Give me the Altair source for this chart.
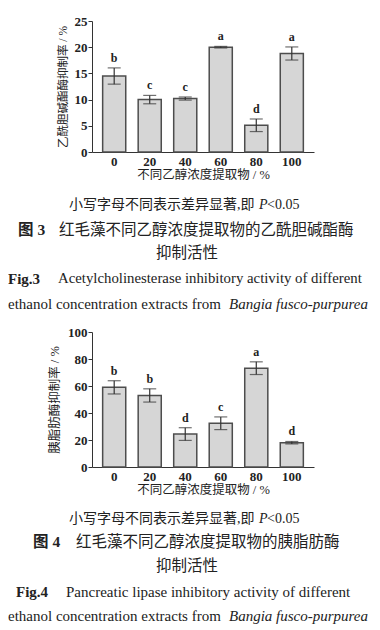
import altair as alt
import pandas as pd

conc = ["0", "20", "40", "60", "80", "100"]

ache = [14.5, 10.0, 10.2, 20.0, 5.1, 18.8]
ache_err = [1.55, 0.8, 0.3, 0.15, 1.2, 1.25]
ache_sig = ["b", "c", "c", "a", "d", "a"]

lip = [59.0, 53.0, 24.4, 32.4, 73.2, 18.0]
lip_err = [4.9, 4.9, 4.7, 4.7, 4.7, 0.9]
lip_sig = ["b", "b", "d", "c", "a", "d"]

SERIF = "Liberation Serif"
CJK = "Liberation Serif, Noto Sans CJK SC"
INK = "#222222"
DX = 2


def caption(text, x, y, size, weight="normal", style="normal", align="left", font=CJK):
    return alt.Chart(pd.DataFrame({"t": [text]})).mark_text(
        align=align, baseline="middle", fontSize=size, fontWeight=weight,
        fontStyle=style, font=font, color=INK
    ).encode(x=alt.value(x + DX), y=alt.value(y), text="t:N")


def panel(vals, errs, sig, ymax, ystep, ytitle, tsize, w, h, po, caps):
    df = pd.DataFrame({
        "c": conc, "v": vals,
        "lo": [v - e for v, e in zip(vals, errs)],
        "hi": [v + e for v, e in zip(vals, errs)],
        "s": sig,
    })
    base = alt.Chart(df)
    xs = alt.Scale(paddingInner=0.35, paddingOuter=po)
    xaxis = alt.Axis(
        title="不同乙醇浓度提取物 / %", labelAngle=0, ticks=False,
        labelFont=SERIF, labelFontWeight="bold", labelFontSize=13, labelPadding=3,
        labelColor=INK, titleFont=CJK, titleFontSize=12.5, titleFontWeight="normal",
        titleColor=INK, titlePadding=0, domainColor="#333", domainWidth=1)
    yscale = alt.Scale(domain=[0, ymax], nice=False)
    yaxis = alt.Axis(
        title=ytitle, values=list(range(0, ymax + 1, ystep)), grid=False,
        labelOverlap=False, tickSize=4, tickColor="#333", domainColor="#333",
        labelFont=SERIF, labelFontWeight="bold", labelFontSize=13, labelPadding=1,
        labelColor=INK, titleFont=CJK, titleFontSize=tsize, titleFontWeight="normal",
        titleColor=INK, titlePadding=6)
    xb = alt.X("c:N", sort=conc, scale=xs, axis=xaxis)
    ylo = alt.Y("lo:Q", scale=yscale, axis=yaxis)
    yhi = alt.Y("hi:Q", scale=yscale, axis=yaxis)
    bars = base.mark_bar(fill="#d6d6d6", stroke="#4d4d4d", strokeWidth=1.5).encode(
        x=xb, y=alt.Y("v:Q", scale=yscale, axis=yaxis))
    rule = base.mark_rule(color="#333", strokeWidth=1.2).encode(x=xb, y=ylo, y2="hi:Q")
    caplo = base.mark_tick(orient="horizontal", size=13, thickness=1.2, color="#333").encode(x=xb, y=ylo)
    caphi = base.mark_tick(orient="horizontal", size=13, thickness=1.2, color="#333").encode(x=xb, y=yhi)
    letters = base.mark_text(dy=-10, font=SERIF, fontWeight="bold", fontSize=12, color=INK).encode(
        x=xb, y=yhi, text="s:N")
    return alt.layer(bars, rule, caplo, caphi, letters, *caps).properties(width=w, height=h)


caps1 = [
    caption("小写字母不同表示差异显著,即", -25, 184, 14),
    caption("P", 165, 184, 14, style="italic", font=SERIF),
    caption("<0.05", 173, 184, 14, font=SERIF),
    caption("图 3", -76, 209, 15.5, weight="bold"),
    caption("红毛藻不同乙醇浓度提取物的乙酰胆碱酯酶", -35, 209, 15.5),
    caption("抑制活性", 93, 232, 15.5, align="center"),
    caption("Fig.3", -86, 258, 15, weight="bold", font=SERIF),
    caption("Acetylcholinesterase inhibitory activity of different", -36, 258, 14.8, font=SERIF),
    caption("ethanol concentration extracts from", -86, 283, 15, font=SERIF),
    caption("Bangia fusco-purpurea", 135, 283, 15, style="italic", font=SERIF),
]

caps2 = [
    caption("小写字母不同表示差异显著,即", -25, 187, 14),
    caption("P", 165, 187, 14, style="italic", font=SERIF),
    caption("<0.05", 173, 187, 14, font=SERIF),
    caption("图 4", -61, 210, 15.5, weight="bold"),
    caption("红毛藻不同乙醇浓度提取物的胰脂肪酶", -18, 210, 15.5),
    caption("抑制活性", 93, 234, 15.5, align="center"),
    caption("Fig.4", -78, 260, 15, weight="bold", font=SERIF),
    caption("Pancreatic lipase inhibitory activity of different", -28, 260, 15, font=SERIF),
    caption("ethanol concentration extracts from", -86, 284, 15, font=SERIF),
    caption("Bangia fusco-purpurea", 135, 284, 15, style="italic", font=SERIF),
]

c1 = panel(ache, ache_err, ache_sig, 25, 5, "乙酰胆碱酯酶抑制率 / %", 11.5, 222, 131, 0.3, caps1)
c2 = panel(lip, lip_err, lip_sig, 100, 20, "胰脂肪酶抑制率 / %", 12.5, 222, 135, 0.3, caps2)

chart = alt.concat(c1, c2, columns=1, spacing=14).properties(
    padding={"left": 0, "top": 7, "right": 0, "bottom": 0}
).configure_view(stroke=None)

chart.save("out.html", embed_options={"renderer": "svg", "actions": False})
